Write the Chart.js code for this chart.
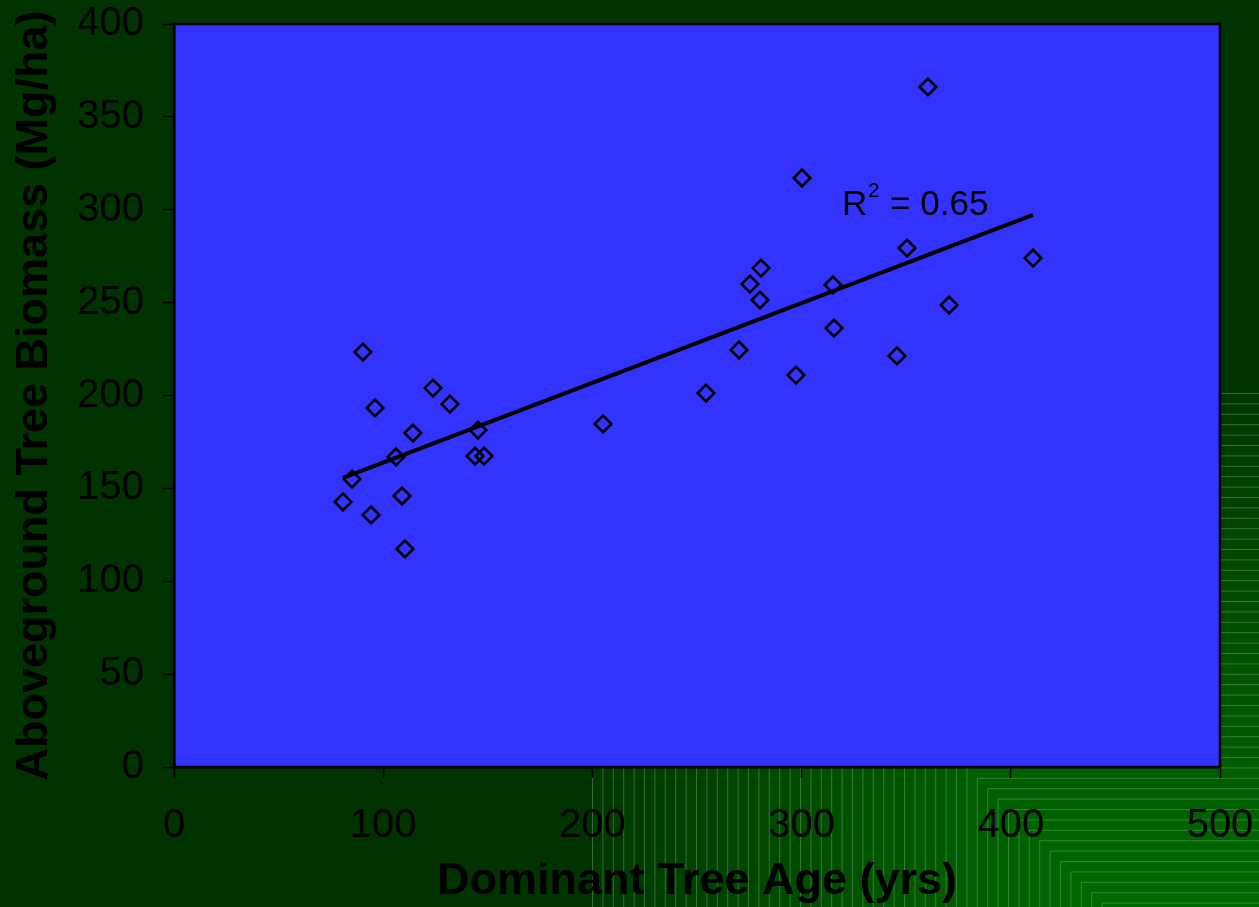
<!DOCTYPE html>
<html>
<head>
<meta charset="utf-8">
<script src="https://cdn.jsdelivr.net/npm/chart.js@4/dist/chart.umd.min.js"></script>
<style>
  html, body { margin: 0; padding: 0; background: #003300; }
  #wrap { width: 1259px; height: 907px; }
</style>
</head>
<body>
<div id="wrap"><canvas id="myChart" width="1259" height="907"></canvas></div>
<script>
// values
const ages = [80.8, 85.1, 90.3, 94.2, 96.1, 106.1, 109.0, 110.4, 114.2, 123.8, 131.9, 143.9, 145.3, 148.2,
	205.1, 254.3, 270.1, 275.3, 280.6, 280.1, 297.3, 300.2, 315.0, 315.5, 345.6, 350.4, 360.4, 370.5, 410.6];
const biomass = [142.7, 155.0, 223.4, 135.7, 193.3, 166.9, 145.9, 117.4, 179.8, 204.0, 195.4, 167.4, 181.4, 167.4,
	184.7, 201.3, 224.5, 260.0, 268.6, 251.4, 211.0, 317.1, 259.5, 236.3, 221.3, 279.4, 366.1, 248.7, 274.0];
const trendX = [80.8, 410.6];
const trendY = [155.7, 297.2];
const xTicks = [0, 100, 200, 300, 400, 500];
const yTicks = [0, 50, 100, 150, 200, 250, 300, 350, 400];
const r2Label = ["R", "2", " = 0.65"];
const r2Pos = [319.3, 297.2];

const FONT = "'Liberation Sans', Arial, sans-serif";

const backdrop = {
	id: "backdrop",
	beforeDraw(chart) {
		const ctx = chart.ctx;
		const W = chart.width, H = chart.height;
		ctx.save();
		ctx.fillStyle = "#003300";
		ctx.fillRect(0, 0, W, H);
		// stepped corner gradient at the lower right
		const steps = 50;
		for (let i = 0; i < steps; i++) {
			const x0 = 592 + i * 10.4;
			const y0 = 393 + i * 10.4;
			if (y0 >= H) break;
			const g = Math.round(56 + (i / (steps - 1)) * 50);
			ctx.fillStyle = "rgb(0," + g + ",0)";
			ctx.fillRect(x0, y0, W - x0, H - y0);
			ctx.strokeStyle = "rgba(130,190,130,0.4)";
			ctx.lineWidth = 1;
			ctx.beginPath();
			ctx.moveTo(W, y0 + 0.5);
			ctx.lineTo(x0 + 0.5, y0 + 0.5);
			ctx.lineTo(x0 + 0.5, H);
			ctx.stroke();
		}
		const a = chart.chartArea;
		ctx.fillStyle = "#3333ff";
		ctx.fillRect(a.left, a.top, a.right - a.left, a.bottom - a.top);
		ctx.restore();
	},
	afterDraw(chart) {
		const ctx = chart.ctx;
		const a = chart.chartArea;
		ctx.save();
		ctx.strokeStyle = "#000";
		ctx.lineWidth = 2.5;
		ctx.strokeRect(a.left, a.top, a.right - a.left, a.bottom - a.top);
		const x = chart.scales.x.getPixelForValue(r2Pos[0]);
		const y = chart.scales.y.getPixelForValue(r2Pos[1]);
		ctx.fillStyle = "#000";
		ctx.textBaseline = "alphabetic";
		ctx.textAlign = "left";
		ctx.font = "35px " + FONT;
		ctx.fillText(r2Label[0], x, y);
		const rw = ctx.measureText(r2Label[0]).width;
		ctx.font = "20px " + FONT;
		ctx.fillText(r2Label[1], x + rw + 1, y - 18);
		const sw = ctx.measureText(r2Label[1]).width;
		ctx.font = "35px " + FONT;
		ctx.fillText(r2Label[2], x + rw + sw + 2, y);
		ctx.restore();
	}
};

const ctx = document.getElementById("myChart").getContext("2d");
const myChart = new Chart(ctx, {
	type: "scatter",
	data: {
		datasets: [
			{
				type: "line",
				label: "trend",
				data: trendX.map((v, i) => ({ x: v, y: trendY[i] })),
				borderColor: "#000",
				borderWidth: 4,
				pointRadius: 0,
				fill: false,
			},
			{
				label: "biomass",
				data: ages.map((v, i) => ({ x: v, y: biomass[i] })),
				pointStyle: "rectRot",
				pointRadius: 8.3,
				pointBorderWidth: 2.6,
				pointBorderColor: "#000",
				pointBackgroundColor: "rgba(0,0,0,0)",
			},
		],
	},
	plugins: [backdrop],
	options: {
		responsive: false,
		animation: false,
		layout: { padding: { top: 24, right: 39, left: 0, bottom: 0 } },
		plugins: { legend: { display: false }, tooltip: { enabled: false } },
		scales: {
			x: {
				type: "linear",
				min: 0,
				max: 500,
				afterBuildTicks(scale) { scale.ticks = xTicks.map(v => ({ value: v })); },
				afterFit(scale) {
					scale.height = 140;
					scale.paddingLeft = 0; scale.paddingRight = 0;
					scale.paddingTop = 0; scale.paddingBottom = 0;
				},
				ticks: { color: "#000", font: { family: FONT, size: 40 }, padding: 24, maxRotation: 0 },
				grid: { drawOnChartArea: false, drawTicks: true, tickLength: 11, tickColor: "#000", tickWidth: 1.5 },
				border: { display: true, color: "#000", width: 2.5 },
				title: { display: true, text: "Dominant Tree Age (yrs)", color: "#000",
					font: { family: FONT, size: 45, weight: "bold" }, padding: { top: 0, bottom: -2 } },
			},
			y: {
				type: "linear",
				min: 0,
				max: 400,
				afterBuildTicks(scale) { scale.ticks = yTicks.map(v => ({ value: v })); },
				afterFit(scale) {
					scale.width = 174;
					scale.paddingLeft = 0; scale.paddingRight = 0;
					scale.paddingTop = 0; scale.paddingBottom = 0;
				},
				ticks: { color: "#000", font: { family: FONT, size: 40 }, padding: 19 },
				grid: { drawOnChartArea: false, drawTicks: true, tickLength: 11, tickColor: "#000", tickWidth: 1.5 },
				border: { display: true, color: "#000", width: 2.5 },
				title: { display: true, text: "Aboveground Tree Biomass (Mg/ha)", color: "#000",
					font: { family: FONT, size: 45, weight: "bold" }, padding: { top: 8, bottom: 8 } },
			},
		},
	},
});
</script>
</body>
</html>
